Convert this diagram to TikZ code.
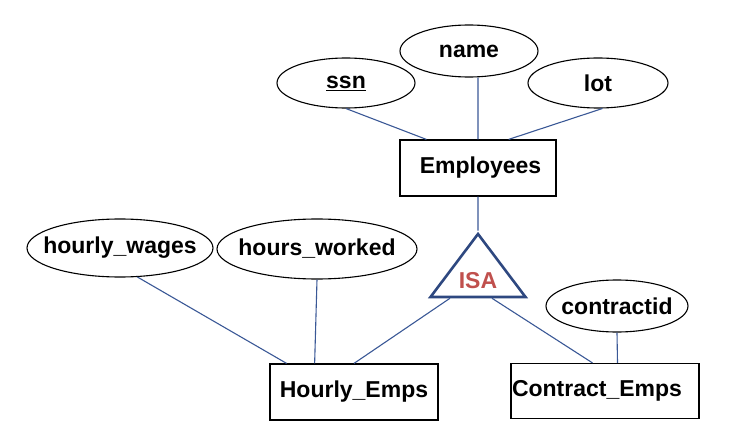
\documentclass[tikz,border=0pt]{standalone}
\usepackage{fontspec}
\setmainfont{Liberation Sans}
\usetikzlibrary{positioning}
\usetikzlibrary{shapes.geometric}
\usetikzlibrary{calc}

\definecolor{linkblue}{RGB}{58,88,150}
\definecolor{isablue}{RGB}{46,72,128}
\definecolor{isared}{RGB}{192,80,77}

\newcommand{\attrname}[1]{\makebox[0pt]{#1}}

\tikzset{
  every node/.style={font=\fontsize{23}{27}\selectfont\bfseries},
  entity/.style={draw, rectangle, line width=1.2pt, inner sep=0pt, minimum height=56pt},
  attr/.style={draw, ellipse, line width=1.1pt, inner sep=0pt},
  link/.style={draw=linkblue, line width=1.1pt},
  isatri/.style={draw=isablue, line width=2.6pt, isosceles triangle, shape border rotate=90,
    isosceles triangle stretches, minimum width=95pt, minimum height=63pt, inner sep=0pt}
}

\begin{document}
\begin{tikzpicture}[x=1pt,y=-1pt,on grid]
   \useasboundingbox (0,0) rectangle (740,444);
   \node[entity, minimum width=156pt] (emp) at (478,168) {\kern5pt Employees};
   \node[attr, minimum width=138pt, minimum height=50pt] (ssn) [above left=85pt and 132pt of emp] {\attrname{\underline{ssn}}};
   \node[attr, minimum width=138pt, minimum height=52pt] (name) [above left=117pt and 9pt of emp] {\attrname{name}};
   \node[attr, minimum width=140pt, minimum height=50pt] (lot) [above right=85pt and 120pt of emp] {\attrname{lot}};
   \node[isatri, anchor=apex] (isa) at ([yshift=-34pt]emp.south) {};
   \node[text=isared] (isatext) at ([yshift=18pt]isa.lower side) {ISA};
   \node[entity, minimum width=168pt] (hourly) [below left=224pt and 124pt of emp] {Hourly\_Emps};
   \node[entity, minimum width=188pt, minimum height=55pt] (contract) [below right=223pt and 127pt of emp] {Contract\_Emps\kern16pt};
   \node[attr, minimum width=142pt, minimum height=52pt] (cid) [above right=85pt and 12pt of contract] {\attrname{contractid}};
   \node[attr, minimum width=186pt, minimum height=58pt] (hwages) [above left=144pt and 234pt of hourly] {\attrname{hourly\_wages}};
   \node[attr, minimum width=200pt, minimum height=60pt] (hworked) [above left=143pt and 37pt of hourly] {\attrname{hours\_worked}};
    \path[link]
    (ssn.south) -- (emp.151)
    (emp.north) -- (emp.north |- name.south)
    (lot.-80) -- (emp.43)
    (emp.south) -- (isa.apex)
    ($(isa.left corner)!.22!(isa.right corner)$) -- (hourly.north)
    ($(isa.left corner)!.64!(isa.right corner)$) -- (contract.114)
    (cid.south) -- (contract.66)
    (hwages.-59) -- (hourly.157)
    (hworked.south) -- (hourly.144);
\end{tikzpicture}
\end{document}
